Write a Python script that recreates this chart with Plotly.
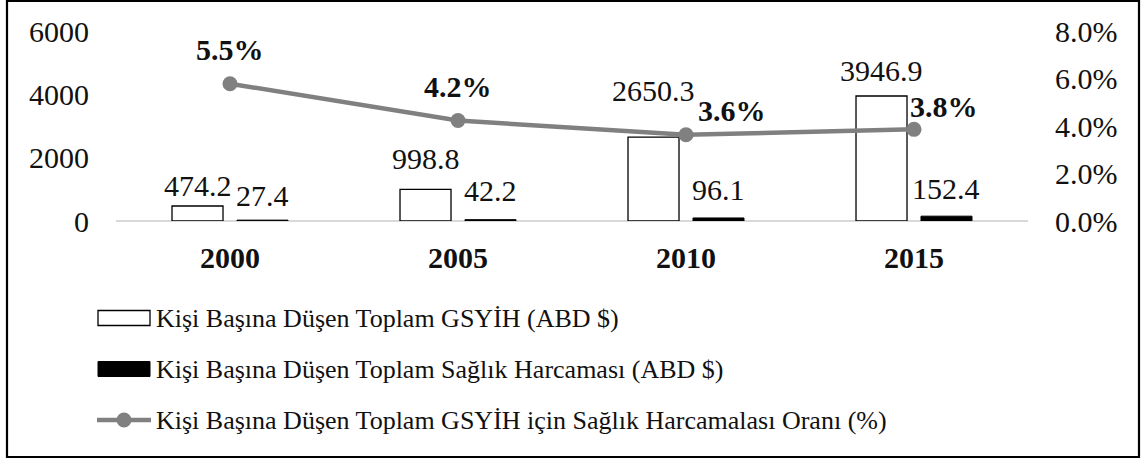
import plotly.graph_objects as go

years = ["2000", "2005", "2010", "2015"]
gdp = [474.2, 998.8, 2650.3, 3946.9]
health = [27.4, 42.2, 96.1, 152.4]
ratio = [5.78, 4.23, 3.63, 3.86]
ratio_labels = ["5.5%", "4.2%", "3.6%", "3.8%"]

name_gdp = "Kişi Başına Düşen Toplam GSYİH (ABD $)"
name_health = "Kişi Başına Düşen Toplam Sağlık Harcaması (ABD $)"
name_ratio = "Kişi Başına Düşen Toplam GSYİH için Sağlık Harcamalası Oranı (%)"

# label placement (pixel offsets, styling only)
gdp_label_yshift = [20, 31, 47, 26]
health_label_yshift = [25, 29, 28, 28]
ratio_label_xshift = [0, 0, 46, 30]
ratio_label_yshift = [34, 34, 24, 23]

FONT = "Liberation Serif"
FS = 30
W, H = 1147, 461
ML, MR, MT, MB = 116, 119, 31, 240
PW, PH = W - ML - MR, H - MT - MB

BARGAP, GROUPGAP = 0.43, 0.215
half_slot = (1 - BARGAP) / 4  # offset of each bar centre from category centre

def px(x):
    return (x - ML) / PW

def py(y):
    return (H - MB - y) / PH

fig = go.Figure()
fig.add_trace(go.Bar(
    x=years, y=gdp, name=name_gdp,
    marker=dict(color="white", line=dict(color="black", width=1.3)),
))
fig.add_trace(go.Bar(
    x=years, y=health, name=name_health,
    marker=dict(color="black", line=dict(color="black", width=1)),
))
fig.add_trace(go.Scatter(
    x=years, y=ratio, name=name_ratio, yaxis="y2",
    mode="lines+markers",
    line=dict(color="#808080", width=4.5),
    marker=dict(color="#808080", size=15),
    cliponaxis=False,
))

# value labels
for i, v in enumerate(gdp):
    fig.add_annotation(x=i - half_slot, y=v, xref="x", yref="y",
                       text=f"{v:.1f}", showarrow=False,
                       yshift=gdp_label_yshift[i],
                       font=dict(family=FONT, size=FS, color="#111"))
for i, v in enumerate(health):
    fig.add_annotation(x=i + half_slot, y=v, xref="x", yref="y",
                       text=f"{v:.1f}", showarrow=False,
                       yshift=health_label_yshift[i],
                       font=dict(family=FONT, size=FS, color="#111"))
for i, (v, lab) in enumerate(zip(ratio, ratio_labels)):
    fig.add_annotation(x=i, y=v, xref="x", yref="y2", text=f"<b>{lab}</b>",
                       showarrow=False, yshift=ratio_label_yshift[i],
                       xshift=ratio_label_xshift[i],
                       font=dict(family=FONT, size=FS, color="#111"))

# outer frame
fig.add_shape(type="rect", xref="paper", yref="paper",
              x0=px(7), x1=px(1139), y0=py(457), y1=py(1),
              line=dict(color="black", width=2.2), layer="below")

# legend (drawn manually to reproduce the wide keys)
LEG_FS = 26
leg_rows = [318, 369, 420]
fig.add_shape(type="rect", xref="paper", yref="paper",
              x0=px(98), x1=px(150), y0=py(leg_rows[0] + 7.5), y1=py(leg_rows[0] - 7.5),
              fillcolor="white", line=dict(color="black", width=1.3))
fig.add_shape(type="rect", xref="paper", yref="paper",
              x0=px(98), x1=px(150), y0=py(leg_rows[1] + 7.5), y1=py(leg_rows[1] - 7.5),
              fillcolor="black", line=dict(color="black", width=1))
fig.add_shape(type="line", xref="paper", yref="paper",
              x0=px(97), x1=px(151), y0=py(leg_rows[2]), y1=py(leg_rows[2]),
              line=dict(color="#808080", width=4.5))
fig.add_shape(type="circle", xref="paper", yref="paper",
              x0=px(124 - 7.5), x1=px(124 + 7.5),
              y0=py(leg_rows[2] + 7.5), y1=py(leg_rows[2] - 7.5),
              fillcolor="#808080", line=dict(color="#808080", width=0))
for row, name in zip(leg_rows, [name_gdp, name_health, name_ratio]):
    fig.add_annotation(x=px(154), y=py(row), xref="paper", yref="paper",
                       xanchor="left", yanchor="middle", text=name,
                       showarrow=False,
                       font=dict(family=FONT, size=LEG_FS, color="#111"))

fig.update_layout(
    width=W, height=H,
    margin=dict(l=ML, r=MR, t=MT, b=MB, autoexpand=False),
    paper_bgcolor="white", plot_bgcolor="white",
    font=dict(family=FONT, size=FS, color="#111"),
    barmode="group", bargap=BARGAP, bargroupgap=GROUPGAP,
    showlegend=False,
    xaxis=dict(
        type="category", showgrid=False, showline=False, zeroline=False,
        ticks="", ticklabelstandoff=16, range=[-0.5, 3.5],
        tickfont=dict(family=FONT, size=FS, color="#111", weight="bold"),
    ),
    yaxis=dict(
        range=[0, 6000], tickvals=[0, 2000, 4000, 6000],
        showgrid=False, zeroline=True, zerolinecolor="#d9d9d9", zerolinewidth=1.5,
        showline=False, ticks="", ticklabelstandoff=26,
        tickfont=dict(family=FONT, size=FS, color="#111"),
    ),
    yaxis2=dict(
        range=[0, 8], tickvals=[0, 2, 4, 6, 8],
        ticktext=["0.0%", "2.0%", "4.0%", "6.0%", "8.0%"],
        overlaying="y", side="right", showgrid=False, zeroline=False,
        showline=False, ticks="", ticklabelstandoff=26,
        tickfont=dict(family=FONT, size=FS, color="#111"),
    ),
)

fig.write_html("out.html", config={"displayModeBar": False},
               post_script="document.body.style.margin='0';")
